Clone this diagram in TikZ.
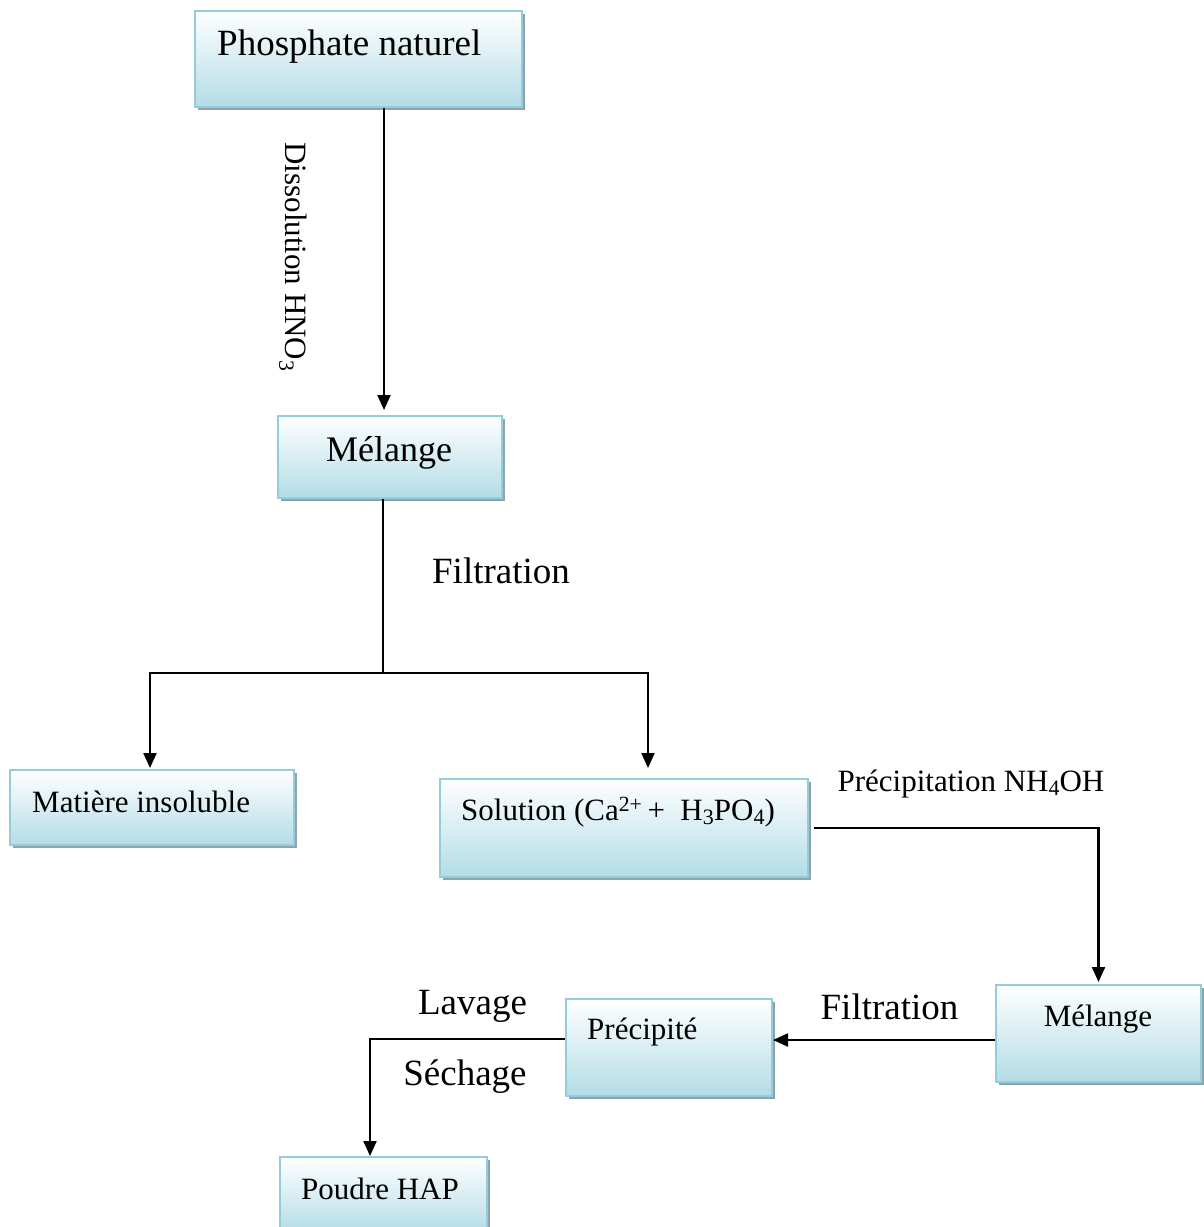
\documentclass[tikz,border=0pt]{standalone}
\usepackage{fontspec}
\setmainfont{Liberation Serif}
\usetikzlibrary{arrows.meta,shadows}
\definecolor{boxblue}{HTML}{B3DCE6}
\definecolor{boxline}{HTML}{93CDDD}
\definecolor{shadowgray}{HTML}{8FA3A8}
\newcommand{\lowsub}[1]{\raisebox{-0.12em}{\fontsize{22}{24}\selectfont #1}}
\tikzset{
  box/.style={draw=boxline, line width=2pt, top color=white, bottom color=boxblue,
    inner sep=0pt, general shadow={fill=shadowgray, shadow xshift=3pt, shadow yshift=-3pt}},
  big/.style={font=\fontsize{37}{40}\selectfont, inner sep=0pt},
  mid/.style={font=\fontsize{36}{40}\selectfont, inner sep=0pt},
  small/.style={font=\fontsize{31}{34}\selectfont, inner sep=0pt},
  conn/.style={line width=2.2pt},
  arr/.style={line width=2.2pt, -{Triangle[length=15pt,width=13pt]}},
}
\begin{document}
\begin{tikzpicture}[x=1pt,y=-1pt]
\useasboundingbox (0,0) rectangle (1203,1227);
% boxes
\node[box, minimum width=327pt, minimum height=96pt] (b1) at (358.5,59) {};
\node[box, minimum width=224pt, minimum height=82pt] (m1) at (390,457) {};
\node[box, minimum width=284pt, minimum height=75pt] (mi) at (152,807.5) {};
\node[box, minimum width=368pt, minimum height=98pt] (so) at (624,828) {};
\node[box, minimum width=205pt, minimum height=97pt] (m2) at (1098.5,1033.5) {};
\node[box, minimum width=206pt, minimum height=97pt] (pr) at (669,1047.5) {};
\node[box, minimum width=207pt, minimum height=76pt] (po) at (383.5,1195) {};
% box texts
\node[big, anchor=west] (t1) at (217,47) {Phosphate naturel};
\node[mid] (t2) at (389,453) {Mélange};
\node[small, anchor=west] (t3) at (32,802) {Matière insoluble};
\node[small, anchor=west] (t4) at (461,812) {Solution (Ca\textsuperscript{2+}\,+\ \ H\lowsub{3}PO\lowsub{4})};
\node[small] (t5) at (1098,1019) {Mélange};
\node[small, anchor=west] (t6) at (587,1032) {Précipité};
\node[small, anchor=west] (t7) at (301,1189) {Poudre HAP};
% labels
\node[small, rotate=-90] (l1) at (293,257) {Dissolution HNO\textsubscript{3}};
\node[big] (l2) at (501,571) {Filtration};
\node[small] (l3) at (971,784) {Précipitation NH\lowsub{4}OH};
\node[big] (l4) at (889.5,1007) {Filtration};
\node[big] (l5) at (472.5,1006) {Lavage};
\node[big] (l6) at (465,1077) {Séchage};
% helper coordinates
\coordinate (k1) at (384,0);
\coordinate (j) at (383,673);
\coordinate (L) at (150,673);
\coordinate (R) at (648,673);
\coordinate (h2) at (0,1040);
\coordinate (c5) at (370,1039);
% connectors
\draw[arr, shorten >=5pt] (b1.south -| k1) -- (m1.north -| k1);
\draw[conn] (m1.south -| j) -- (j);
\draw[arr, shorten >=1pt] (j) -- (L) -- (mi.north -| L);
\draw[arr, shorten >=10pt] (j) -- (R) -- (so.north -| R);
\draw[arr, shorten >=2pt] ([xshift=5pt]so.east) -| (m2.north);
\draw[arr] (m2.west |- h2) -- (pr.east |- h2);
\draw[arr] (pr.west |- c5) -- (c5) -- (po.north -| c5);
\end{tikzpicture}
\end{document}
